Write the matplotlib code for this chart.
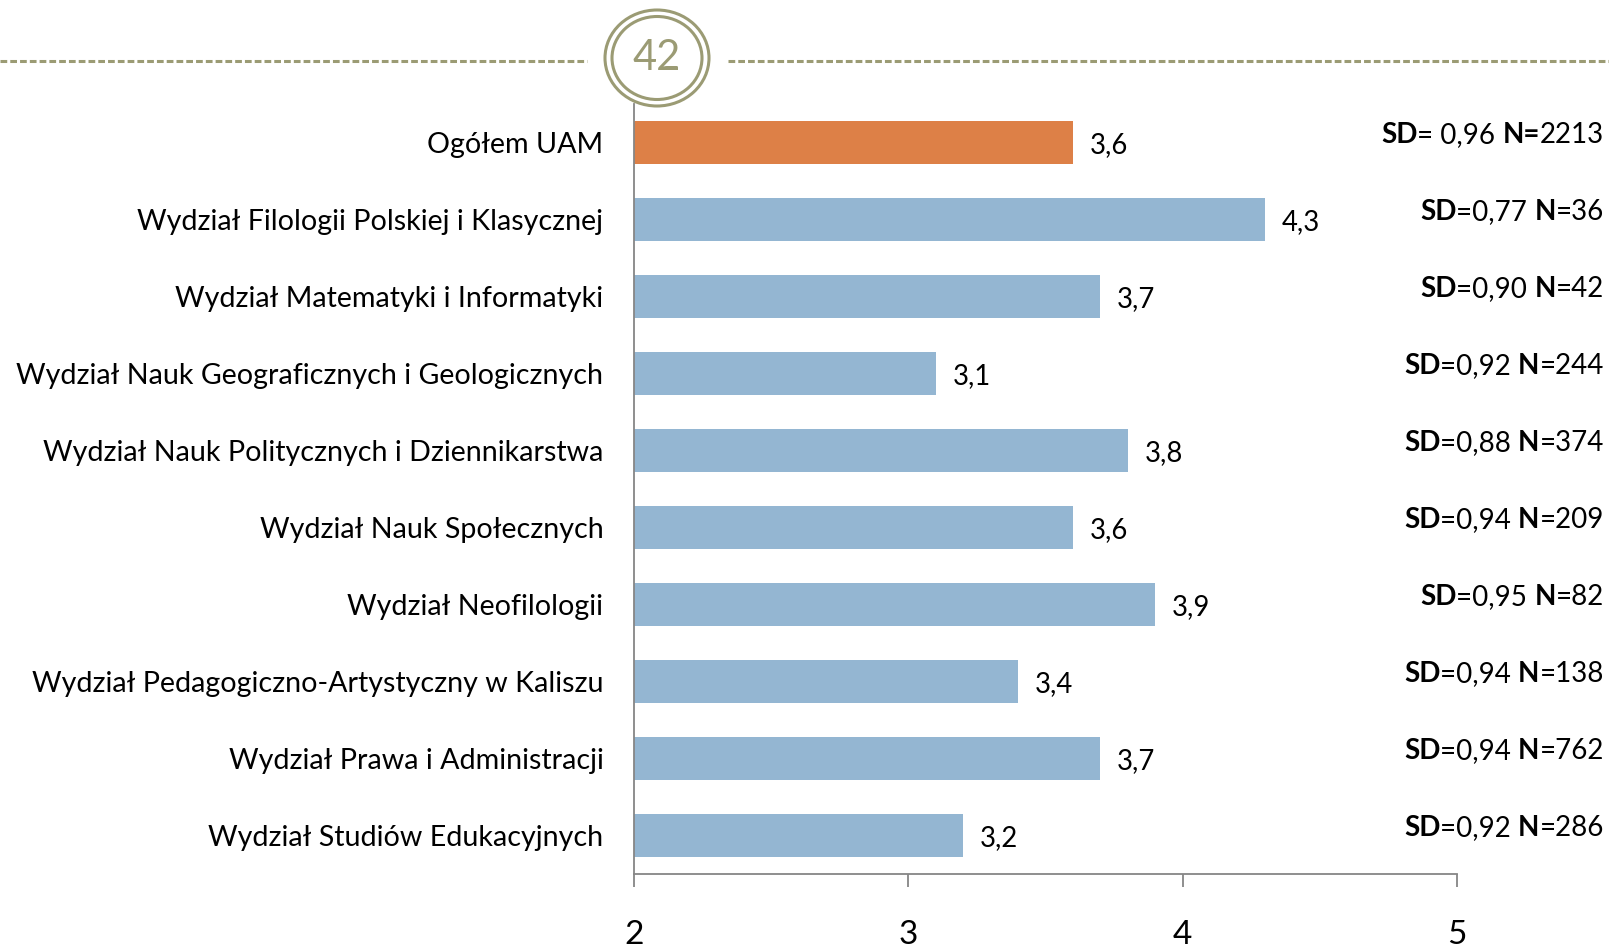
import matplotlib
matplotlib.use('agg')
import matplotlib.pyplot as plt  # noqa
from matplotlib.patches import Ellipse  # noqa
from matplotlib.lines import Line2D  # noqa

categories = [
    'Ogółem UAM',
    'Wydział Filologii Polskiej i Klasycznej',
    'Wydział Matematyki i Informatyki',
    'Wydział Nauk Geograficznych i Geologicznych',
    'Wydział Nauk Politycznych i Dziennikarstwa',
    'Wydział Nauk Społecznych',
    'Wydział Neofilologii',
    'Wydział Pedagogiczno-Artystyczny w Kaliszu',
    'Wydział Prawa i Administracji',
    'Wydział Studiów Edukacyjnych',
]
means = [3.6, 4.3, 3.7, 3.1, 3.8, 3.6, 3.9, 3.4, 3.7, 3.2]
sd = ['0,96', '0,77', '0,90', '0,92', '0,88', '0,94', '0,95', '0,94', '0,94', '0,92']
n = ['2213', '36', '42', '244', '374', '209', '82', '138', '762', '286']
xticks = [2, 3, 4, 5]
page_no = '42'

ORANGE = '#dd8047'
BLUE = '#94b6d2'
OLIVE = '#9b9b74'
GRAY = '#868686'
FONT = 'Lato'

W, H = 1609, 946
fig = plt.figure(figsize=(W / 100, H / 100), dpi=100)
ax = fig.add_axes([634 / W, 1 - 874 / H, (1457 - 634) / W, (874 - 104) / H])

ys = list(range(len(categories)))
colors = [ORANGE] + [BLUE] * (len(categories) - 1)
ax.barh(ys, [m - 2 for m in means], left=2, height=0.57, color=colors)

ax.set_xlim(2, 5)
ax.set_ylim(len(categories) - 0.5, -0.5)
ax.set_xticks(xticks)
ax.set_xticklabels([str(t) for t in xticks], fontsize=24, family=FONT)
ax.tick_params(axis='x', length=9, width=1.3, color=GRAY, pad=24)
ax.set_yticks(ys)
ax.set_yticklabels(categories, fontsize=20.6, family=FONT)
ax.tick_params(axis='y', length=0, pad=22)
for s in ['top', 'right']:
    ax.spines[s].set_visible(False)
for s in ['left', 'bottom']:
    ax.spines[s].set_color(GRAY)
    ax.spines[s].set_linewidth(1.3)

for y, m in zip(ys, means):
    ax.annotate(f'{m:.1f}'.replace('.', ','), (m, y), xytext=(12, -2),
                textcoords='offset points', va='center', ha='left',
                fontsize=19.8, family=FONT)

# SD / N labels built from right to left with bold parts
fig.canvas.draw()
renderer = fig.canvas.get_renderer()
for i, y in enumerate(ys):
    if i == 0:
        parts = [('SD', 'bold'), ('= ' + sd[i] + ' ', 'normal'),
                 ('N=', 'bold'), (n[i], 'normal')]
    else:
        parts = [('SD', 'bold'), ('=' + sd[i] + ' ', 'normal'),
                 ('N', 'bold'), ('=' + n[i], 'normal')]
    disp_y = ax.transData.transform((2, y - 0.1))[1]
    x_right = 1604
    for txt, wt in reversed(parts):
        t = fig.text(x_right / W, disp_y / H, txt, ha='right', va='center',
                     fontsize=20, family=FONT, fontweight=wt)
        bb = t.get_window_extent(renderer)
        x_right = bb.x0

# header: dashed line and page number circle
fig.add_artist(Line2D([0, 587 / W], [1 - 61 / H] * 2, color=OLIVE,
                      lw=2.2, ls=(0, (2.2, 1))))
fig.add_artist(Line2D([728 / W, 1], [1 - 61 / H] * 2, color=OLIVE,
                      lw=2.2, ls=(0, (2.2, 1))))
cx, cy = 657 / W, 1 - 58 / H
fig.add_artist(Ellipse((cx, cy), 104 / W, 96 / H, fill=False,
                       ec=OLIVE, lw=2.2, transform=fig.transFigure))
fig.add_artist(Ellipse((cx, cy), 90 / W, 83 / H, fill=False,
                       ec=OLIVE, lw=2.2, transform=fig.transFigure))
fig.text(cx, cy, page_no, ha='center', va='center', fontsize=30,
         family=FONT, color=OLIVE)

fig.savefig('out.png', dpi=100)
